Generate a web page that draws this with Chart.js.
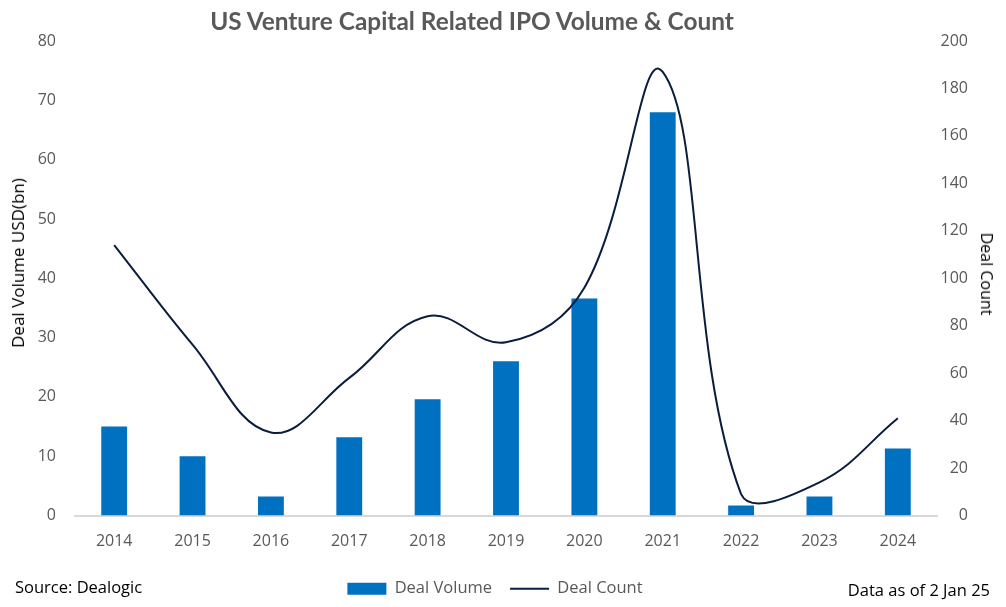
<!DOCTYPE html>
<html>
<head>
<meta charset="utf-8">
<script src="https://cdn.jsdelivr.net/npm/chart.js@4/dist/chart.umd.min.js"></script>
<style>
  html, body { margin: 0; padding: 0; background: #ffffff; }
  #wrap { position: relative; width: 1006px; height: 607px; }
  canvas { display: block; }
  .note { position: absolute; font-family: "Open Sans", sans-serif; font-size: 16.5px; color: #000; white-space: nowrap; line-height: 20px; }
  #title { position: absolute; left: 472px; top: 21px; transform: translate(-50%, -50%); font-family: "Lato", sans-serif; font-weight: bold; font-size: 24.4px; color: #595959; white-space: nowrap; line-height: 30px; }
  .ytitle { position: absolute; font-family: "Open Sans", sans-serif; font-size: 16px; color: #000; white-space: nowrap; line-height: 20px; }
</style>
</head>
<body>
<div id="wrap">
  <canvas id="c" width="1006" height="607"></canvas>
  <div id="title">US Venture Capital Related IPO Volume &amp; Count</div>
  <div class="ytitle" style="left:18px; top:263px; font-size:17px; transform: translate(-50%, -50%) rotate(-90deg);">Deal Volume USD(bn)</div>
  <div class="ytitle" style="left:987px; top:274px; transform: translate(-50%, -50%) rotate(90deg);">Deal Count</div>
  <div class="note" style="left:15px; top:577px;">Source: Dealogic</div>
  <div class="note" style="right:16px; top:580px;">Data as of 2 Jan 25</div>
</div>
<script>
const categories = ["2014","2015","2016","2017","2018","2019","2020","2021","2022","2023","2024"];
const dealVolume = [15.0, 10.0, 3.2, 13.2, 19.6, 26.0, 36.6, 68.0, 1.7, 3.2, 11.3];
const dealCount = [114, 72, 35, 58, 84, 73, 96, 187, 9, 14, 41];
const leftTicks = { min: 0, max: 80, step: 10 };
const rightTicks = { min: 0, max: 200, step: 20 };

const tickFont = { family: "Open Sans", size: 16 };
const gray = "#595959";

const legendShift = {
  id: "legendShift",
  afterLayout(chart) {
    if (chart.legend) { chart.legend.left += 11; chart.legend.right += 11; }
  }
};

new Chart(document.getElementById("c"), {
  data: {
    labels: categories,
    datasets: [
      {
        type: "line",
        label: "Deal Count",
        data: dealCount,
        yAxisID: "y1",
        borderColor: "#0b1d3f",
        backgroundColor: "#0b1d3f",
        borderWidth: 2,
        pointRadius: 0,
        pointStyle: "line",
        tension: 0.4,
        order: 0
      },
      {
        type: "bar",
        label: "Deal Volume",
        data: dealVolume,
        yAxisID: "y",
        backgroundColor: "#0070c0",
        borderWidth: 0,
        pointStyle: "rect",
        barPercentage: 0.33,
        categoryPercentage: 1.0,
        order: 1
      }
    ]
  },
  plugins: [legendShift],
  options: {
    responsive: false,
    animation: false,
    layout: { padding: { left: 0, right: 38, top: 41, bottom: 0 } },
    plugins: {
      title: { display: false },
      legend: {
        position: "bottom",
        reverse: true,
        labels: {
          usePointStyle: true,
          pointStyleWidth: 39,
          boxHeight: 12,
          color: gray,
          font: { family: "Open Sans", size: 16.5 },
          padding: 18
        }
      },
      tooltip: { enabled: false }
    },
    scales: {
      x: {
        grid: { display: false, drawTicks: false },
        border: { display: true, color: "#d9d9d9", width: 2 },
        ticks: { color: gray, font: tickFont, padding: 16, maxRotation: 0 },
        afterFit: (s) => { s.height = 47; }
      },
      y: {
        position: "left",
        min: leftTicks.min, max: leftTicks.max,
        grid: { display: false, drawTicks: false },
        border: { display: false },
        ticks: { stepSize: leftTicks.step, color: gray, font: tickFont, padding: 19 },
        afterFit: (s) => { s.width = 75; }
      },
      y1: {
        position: "right",
        min: rightTicks.min, max: rightTicks.max,
        grid: { display: false, drawTicks: false },
        border: { display: false },
        ticks: { stepSize: rightTicks.step, color: gray, font: tickFont, padding: 5, crossAlign: "far" },
        afterFit: (s) => { s.width = 31; }
      }
    }
  }
});
</script>
</body>
</html>
